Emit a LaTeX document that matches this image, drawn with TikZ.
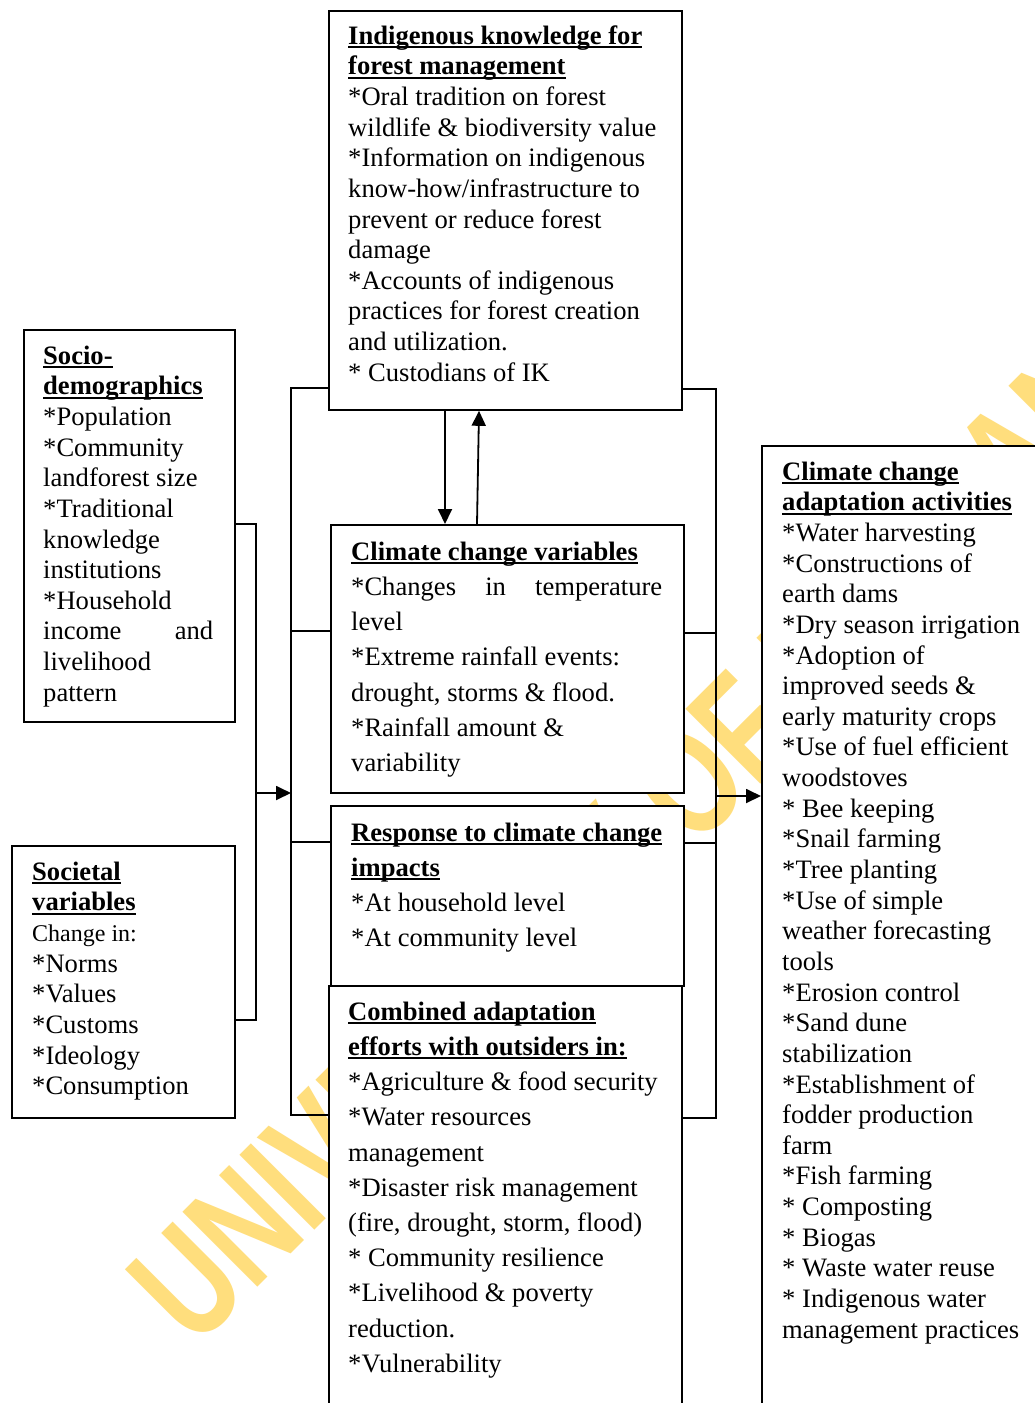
\documentclass[tikz,border=0pt]{standalone}
\usepackage{fontspec}
\setmainfont{Liberation Serif}
\newfontfamily\wmfont{Liberation Sans}
\usetikzlibrary{arrows.meta}
\definecolor{wmyellow}{RGB}{255,222,125}
\newcommand\ulbf[1]{\setbox0\hbox{\bfseries #1}\rlap{\rule[-4pt]{\wd0}{2pt}}\box0}
\newcommand\fstrut{\rule{0pt}{22pt}}
\begin{document}
\begin{tikzpicture}[x=1pt,y=-1pt,
  box/.style={draw, line width=1.8pt, fill=white, inner sep=0pt, anchor=north west},
  txt/.style={anchor=north west, inner sep=0pt, align=left, font=\fontsize{26.6}{30.64}\selectfont},
  wide/.style={font=\fontsize{26.6}{35.2}\selectfont},
  conn/.style={line width=1.8pt},
  arr/.style={line width=1.8pt, -{Triangle[length=15pt,width=14pt]}}]
\useasboundingbox (0,0) rectangle (1035,1403);
\clip (0,0) rectangle (1035,1403);
\fill[white] (0,0) rectangle (1035,1403);

% watermark
\begin{scope}[shift={(195,1350)}]
\node[anchor=base west, inner sep=0pt, transform shape, rotate=45, xscale=0.73, text=wmyellow,
  font=\wmfont\bfseries\fontsize{154}{160}\selectfont] (wm) at (0,0) {UNIVERSITY OF IBADAN LIBRARY};
\end{scope}

% boxes
\node[box, minimum width=353pt, minimum height=399pt] (top) at (328,10) {};
\node[box, minimum width=211pt, minimum height=392pt] (socio) at (23,329) {};
\node[box, minimum width=223pt, minimum height=272pt] (societal) at (11,845) {};
\node[box, minimum width=353pt, minimum height=268pt] (ccv) at (330,524) {};
\node[box, minimum width=353pt, minimum height=180pt] (resp) at (330,805) {};
\node[box, minimum width=353pt, minimum height=520pt] (comb) at (328,985) {};
\node[box, minimum width=400pt, minimum height=1100pt] (right) at (761,445) {};

% helper coordinates
\coordinate (brk) at (256,0);
\coordinate (lbus) at (291,0);
\coordinate (rbus) at (716,0);
\coordinate (ya) at (0,524);
\coordinate (yb) at (0,1020);
\coordinate (yc) at (0,793);
\coordinate (yd) at (0,388);
\coordinate (ye) at (0,1115);
\coordinate (yf) at (0,631);
\coordinate (yg) at (0,842);
\coordinate (yh) at (0,389);
\coordinate (yi) at (0,633);
\coordinate (yj) at (0,843);
\coordinate (yk) at (0,1118);
\coordinate (yl) at (0,796);
\coordinate (xdn) at (445,0);
\coordinate (xup) at (477,0);
\coordinate (xup2) at (479,0);

% connectors
\draw[conn] (socio.east |- ya) -- (brk |- ya) -- (brk |- yb) -- (societal.east |- yb);
\draw[arr] (brk |- yc) -- (lbus |- yc);
\draw[conn] (top.west |- yd) -- (lbus |- yd) -- (lbus |- ye) -- (comb.west |- ye);
\draw[conn] (lbus |- yf) -- (ccv.west |- yf);
\draw[conn] (lbus |- yg) -- (resp.west |- yg);
\draw[conn] (top.east |- yh) -- (rbus |- yh) -- (rbus |- yk) -- (comb.east |- yk);
\draw[conn] (ccv.east |- yi) -- (rbus |- yi);
\draw[conn] (resp.east |- yj) -- (rbus |- yj);
\draw[arr] (rbus |- yl) -- (right.west |- yl);
\draw[arr] (xdn |- top.south) -- (xdn |- ccv.north);
\draw[arr] (xup |- ccv.north) -- (xup2 |- top.south);

% texts
\node[txt] (ttop) at (348,22) {\fstrut\ulbf{Indigenous knowledge for}\\
\ulbf{forest management}\\
{*}Oral tradition on forest\\
wildlife \& biodiversity value\\
{*}Information on indigenous\\
know-how/infrastructure to\\
prevent or reduce forest\\
damage\\
{*}Accounts of indigenous\\
practices for forest creation\\
and utilization.\\
{*} Custodians of IK};

\node[txt] (tsocio) at (43,342) {\fstrut\ulbf{Socio-}\\
\ulbf{demographics}\\
{*}Population\\
{*}Community\\
landforest size\\
{*}Traditional\\
knowledge\\
institutions\\
{*}Household\\
\hbox to 170pt{income\hfill and}\\
livelihood\\
pattern};

\node[txt] (tsocietal) at (32,858) {\fstrut\ulbf{Societal}\\
\ulbf{variables}\\
{\fontsize{24}{28}\selectfont Change in:}\\
{*}Norms\\
{*}Values\\
{*}Customs\\
{*}Ideology\\
{*}Consumption};

\node[txt, wide] (tccv) at (351,538) {\fstrut\ulbf{Climate change variables}\\
\hbox to 311pt{{*}Changes\hfill in\hfill temperature}\\
level\\
{*}Extreme rainfall events:\\
drought, storms \& flood.\\
{*}Rainfall amount \&\\
variability};

\node[txt, wide] (tresp) at (351,819) {\fstrut\ulbf{Response to climate change}\\
\ulbf{impacts}\\
{*}At household level\\
{*}At community level};

\node[txt, wide] (tcomb) at (348,998) {\fstrut\ulbf{Combined adaptation}\\
\ulbf{efforts with outsiders in:}\\
{*}Agriculture \& food security\\
{*}Water resources\\
management\\
{*}Disaster risk management\\
(fire, drought, storm, flood)\\
{*} Community resilience\\
{*}Livelihood \& poverty\\
reduction.\\
{*}Vulnerability};

\node[txt] (tright) at (782,458) {\fstrut\ulbf{Climate change}\\
\ulbf{adaptation activities}\\
{*}Water harvesting\\
{*}Constructions of\\
earth dams\\
{*}Dry season irrigation\\
{*}Adoption of\\
improved seeds \&\\
early maturity crops\\
{*}Use of fuel efficient\\
woodstoves\\
{*} Bee keeping\\
{*}Snail farming\\
{*}Tree planting\\
{*}Use of simple\\
weather forecasting\\
tools\\
{*}Erosion control\\
{*}Sand dune\\
stabilization\\
{*}Establishment of\\
fodder production\\
farm\\
{*}Fish farming\\
{*} Composting\\
{*} Biogas\\
{*} Waste water reuse\\
{*} Indigenous water\\
management practices};
\end{tikzpicture}
\end{document}
